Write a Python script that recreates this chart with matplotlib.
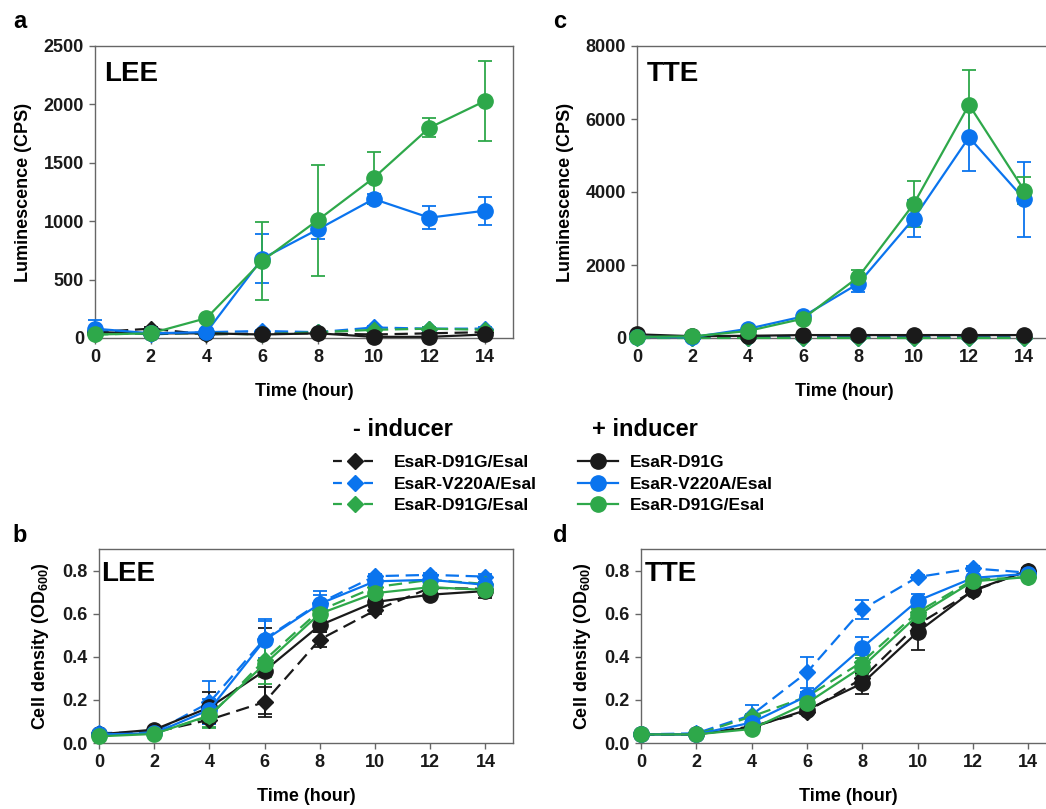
import matplotlib
matplotlib.use("Agg")
import matplotlib.pyplot as plt
from matplotlib.lines import Line2D

plt.rcParams['font.family'] = ['Liberation Sans', 'DejaVu Sans']
plt.rcParams['font.weight'] = 'bold'
plt.rcParams['mathtext.fontset'] = 'custom'
plt.rcParams['mathtext.rm'] = 'Liberation Sans:bold'
plt.rcParams['mathtext.bf'] = 'Liberation Sans:bold'
plt.rcParams['mathtext.default'] = 'bf'

# ---------------- data ----------------
time_h = [0, 2, 4, 6, 8, 10, 12, 14]
x_ticks = [0, 2, 4, 6, 8, 10, 12, 14]

legend_minus = ['EsaR-D91G/EsaI', 'EsaR-V220A/EsaI', 'EsaR-D91G/EsaI']
legend_plus = ['EsaR-D91G', 'EsaR-V220A/EsaI', 'EsaR-D91G/EsaI']

# Panel a: LEE luminescence
a_dia_black = [50, 80, 30, 40, 40, 30, 40, 50]
a_dia_blue = [60, 30, 50, 60, 50, 90, 80, 80]
a_dia_green = [30, 40, 40, 30, 50, 70, 80, 70]
a_cir_black = [50, 40, 40, 30, 40, 10, 10, 30]
a_cir_blue = [80, 40, 50, 680, 930, 1190, 1030, 1090]
a_cir_green = [30, 40, 170, 660, 1010, 1370, 1800, 2030]
a_dia_black_err = [10, 10, 10, 10, 10, 10, 10, 10]
a_dia_blue_err = [10, 10, 10, 10, 10, 15, 10, 10]
a_dia_green_err = [10, 10, 10, 10, 10, 10, 10, 10]
a_cir_black_err = [10, 10, 10, 10, 10, 5, 5, 10]
a_cir_blue_err = [70, 10, 10, 210, 80, 40, 100, 120]
a_cir_green_err = [10, 10, 20, 335, 475, 220, 80, 340]

# Panel c: TTE luminescence
c_dia_black = [20, 20, 30, 20, 20, 20, 20, 20]
c_dia_blue = [15, 10, 10, 10, 10, 10, 10, 10]
c_dia_green = [10, 10, 10, 10, 10, 10, 10, 10]
c_cir_black = [100, 50, 60, 80, 80, 80, 80, 80]
c_cir_blue = [30, 20, 250, 590, 1490, 3270, 5500, 3800]
c_cir_green = [30, 45, 190, 530, 1670, 3670, 6390, 4040]
c_dia_black_err = [10, 10, 10, 10, 10, 10, 10, 10]
c_dia_blue_err = [10, 10, 10, 10, 10, 10, 10, 10]
c_dia_green_err = [10, 10, 10, 10, 10, 10, 10, 10]
c_cir_black_err = [20, 10, 10, 10, 10, 10, 10, 10]
c_cir_blue_err = [10, 10, 30, 80, 240, 510, 920, 1020]
c_cir_green_err = [10, 10, 30, 60, 190, 640, 950, 370]

# Panel b: LEE OD600
b_dia_black = [0.040, 0.050, 0.108, 0.190, 0.480, 0.615, 0.720, 0.715]
b_dia_blue = [0.046, 0.050, 0.188, 0.483, 0.650, 0.774, 0.780, 0.772]
b_dia_green = [0.035, 0.045, 0.123, 0.385, 0.615, 0.723, 0.757, 0.738]
b_cir_black = [0.040, 0.062, 0.165, 0.335, 0.546, 0.654, 0.688, 0.705]
b_cir_blue = [0.040, 0.045, 0.154, 0.477, 0.646, 0.750, 0.757, 0.734]
b_cir_green = [0.031, 0.042, 0.128, 0.366, 0.600, 0.695, 0.723, 0.710]
b_dia_black_err = [0.005, 0.005, 0.020, 0.070, 0.035, 0.015, 0.010, 0.020]
b_dia_blue_err = [0.005, 0.005, 0.100, 0.090, 0.055, 0.010, 0.010, 0.010]
b_dia_green_err = [0.005, 0.005, 0.050, 0.080, 0.040, 0.010, 0.010, 0.010]
b_cir_black_err = [0.005, 0.005, 0.070, 0.200, 0.030, 0.020, 0.010, 0.030]
b_cir_blue_err = [0.005, 0.005, 0.050, 0.090, 0.040, 0.010, 0.010, 0.010]
b_cir_green_err = [0.005, 0.005, 0.060, 0.090, 0.030, 0.020, 0.010, 0.020]

# Panel d: TTE OD600
d_dia_black = [0.040, 0.040, 0.077, 0.146, 0.300, 0.550, 0.705, 0.800]
d_dia_blue = [0.040, 0.045, 0.130, 0.328, 0.620, 0.770, 0.810, 0.790]
d_dia_green = [0.040, 0.040, 0.123, 0.215, 0.377, 0.607, 0.757, 0.770]
d_cir_black = [0.040, 0.040, 0.072, 0.154, 0.277, 0.515, 0.708, 0.800]
d_cir_blue = [0.040, 0.040, 0.095, 0.218, 0.443, 0.660, 0.766, 0.785]
d_cir_green = [0.040, 0.040, 0.065, 0.185, 0.354, 0.592, 0.750, 0.770]
d_dia_black_err = [0.005, 0.005, 0.010, 0.010, 0.020, 0.030, 0.010, 0.010]
d_dia_blue_err = [0.005, 0.005, 0.045, 0.073, 0.045, 0.010, 0.010, 0.010]
d_dia_green_err = [0.005, 0.005, 0.010, 0.020, 0.030, 0.020, 0.010, 0.010]
d_cir_black_err = [0.005, 0.005, 0.010, 0.020, 0.050, 0.085, 0.010, 0.010]
d_cir_blue_err = [0.005, 0.005, 0.010, 0.020, 0.048, 0.030, 0.010, 0.010]
d_cir_green_err = [0.005, 0.005, 0.010, 0.020, 0.040, 0.030, 0.010, 0.010]

BLACK = '#1a1a1a'
BLUE = '#0a74ee'
GREEN = '#2ea84a'
SPINE = '#666666'

W, H = 1046, 809
fig = plt.figure(figsize=(W / 100, H / 100), dpi=100)


def px_axes(left, top, right, bottom):
    return fig.add_axes([left / W, 1 - bottom / H, (right - left) / W, (bottom - top) / H])


def draw(ax, series, ylim, yticks, ylabel, tag, tag_x, tag_y):
    for y, e, color, marker, ls in series:
        ms = 8 if marker == 'D' else 11
        ax.errorbar(time_h, y, yerr=e, color=color, marker=marker, ms=ms,
                    ls=ls, lw=1.6, elinewidth=1.3, capsize=5, capthick=1.3,
                    dashes=(6, 3) if ls == '--' else (None, None),
                    clip_on=False, zorder=3)
    ax.set_xlim(0, 15)
    ax.set_ylim(*ylim)
    ax.set_xticks(x_ticks)
    ax.set_yticks(yticks)
    for s in ax.spines.values():
        s.set_color(SPINE)
        s.set_linewidth(1.0)
    ax.tick_params(direction='out', length=4, width=1, color=SPINE,
                   labelsize=13, labelcolor='#1a1a1a', pad=4)
    ax.set_xlabel('Time (hour)', fontsize=13, fontweight='bold', labelpad=12)
    ax.set_ylabel(ylabel, fontsize=13, fontweight='bold', labelpad=8)
    ax.text(tag_x, tag_y, tag, transform=ax.transAxes, fontsize=20,
            fontweight='bold', va='center', ha='left', color='black')


def series_of(dbk, dbu, dgr, cbk, cbu, cgr, edbk, edbu, edgr, ecbk, ecbu, ecgr):
    return [
        (dbk, edbk, BLACK, 'D', '--'),
        (dbu, edbu, BLUE, 'D', '--'),
        (dgr, edgr, GREEN, 'D', '--'),
        (cbk, ecbk, BLACK, 'o', '-'),
        (cbu, ecbu, BLUE, 'o', '-'),
        (cgr, ecgr, GREEN, 'o', '-'),
    ]


ax_a = px_axes(95, 46, 513, 338)
draw(ax_a, series_of(a_dia_black, a_dia_blue, a_dia_green, a_cir_black, a_cir_blue, a_cir_green,
                     a_dia_black_err, a_dia_blue_err, a_dia_green_err,
                     a_cir_black_err, a_cir_blue_err, a_cir_green_err),
     (0, 2500), [0, 500, 1000, 1500, 2000, 2500], 'Luminescence (CPS)', 'LEE', 0.022, 0.905)

ax_c = px_axes(637, 46, 1052, 338)
draw(ax_c, series_of(c_dia_black, c_dia_blue, c_dia_green, c_cir_black, c_cir_blue, c_cir_green,
                     c_dia_black_err, c_dia_blue_err, c_dia_green_err,
                     c_cir_black_err, c_cir_blue_err, c_cir_green_err),
     (0, 8000), [0, 2000, 4000, 6000, 8000], 'Luminescence (CPS)', 'TTE', 0.024, 0.905)

ax_b = px_axes(99, 549, 513, 743)
draw(ax_b, series_of(b_dia_black, b_dia_blue, b_dia_green, b_cir_black, b_cir_blue, b_cir_green,
                     b_dia_black_err, b_dia_blue_err, b_dia_green_err,
                     b_cir_black_err, b_cir_blue_err, b_cir_green_err),
     (0, 0.9), [0.0, 0.2, 0.4, 0.6, 0.8], r'Cell density (OD$_{600}$)', 'LEE', 0.004, 0.87)
ax_b.set_yticklabels(['0.0', '0.2', '0.4', '0.6', '0.8'])

ax_d = px_axes(641, 549, 1056, 743)
draw(ax_d, series_of(d_dia_black, d_dia_blue, d_dia_green, d_cir_black, d_cir_blue, d_cir_green,
                     d_dia_black_err, d_dia_blue_err, d_dia_green_err,
                     d_cir_black_err, d_cir_blue_err, d_cir_green_err),
     (0, 0.9), [0.0, 0.2, 0.4, 0.6, 0.8], r'Cell density (OD$_{600}$)', 'TTE', 0.008, 0.87)
ax_d.set_yticklabels(['0.0', '0.2', '0.4', '0.6', '0.8'])

# panel letters
for letter, x, y in [('a', 20, 22), ('c', 560, 22), ('b', 20, 535), ('d', 560, 535)]:
    fig.text(x / W, 1 - y / H, letter, fontsize=17, fontweight='bold',
             ha='center', va='center')

# legends
minus_handles = [Line2D([], [], color=c, marker='D', ms=8, ls='--', lw=1.6, dashes=(4, 3))
                 for c in (BLACK, BLUE, GREEN)]
plus_handles = [Line2D([], [], color=c, marker='o', ms=11, ls='-', lw=1.6)
                for c in (BLACK, BLUE, GREEN)]

fs_leg = 12.5
fig.legend(minus_handles, legend_minus, loc='center left',
           bbox_to_anchor=(333 / W, 1 - 484 / H), frameon=False,
           prop={'size': fs_leg, 'weight': 'bold'}, handlelength=2.5,
           handletextpad=1.0, labelspacing=0.38, borderpad=0, borderaxespad=0)
fig.legend(plus_handles, legend_plus, loc='center left',
           bbox_to_anchor=(578 / W, 1 - 484 / H), frameon=False,
           prop={'size': fs_leg, 'weight': 'bold'}, handlelength=2.3,
           handletextpad=0.7, labelspacing=0.38, borderpad=0, borderaxespad=0)
fig.text(353 / W, 1 - 430 / H, '- inducer', fontsize=17, fontweight='bold',
         ha='left', va='center')
fig.text(592 / W, 1 - 430 / H, '+ inducer', fontsize=17, fontweight='bold',
         ha='left', va='center')

fig.savefig('out.png', dpi=100)
